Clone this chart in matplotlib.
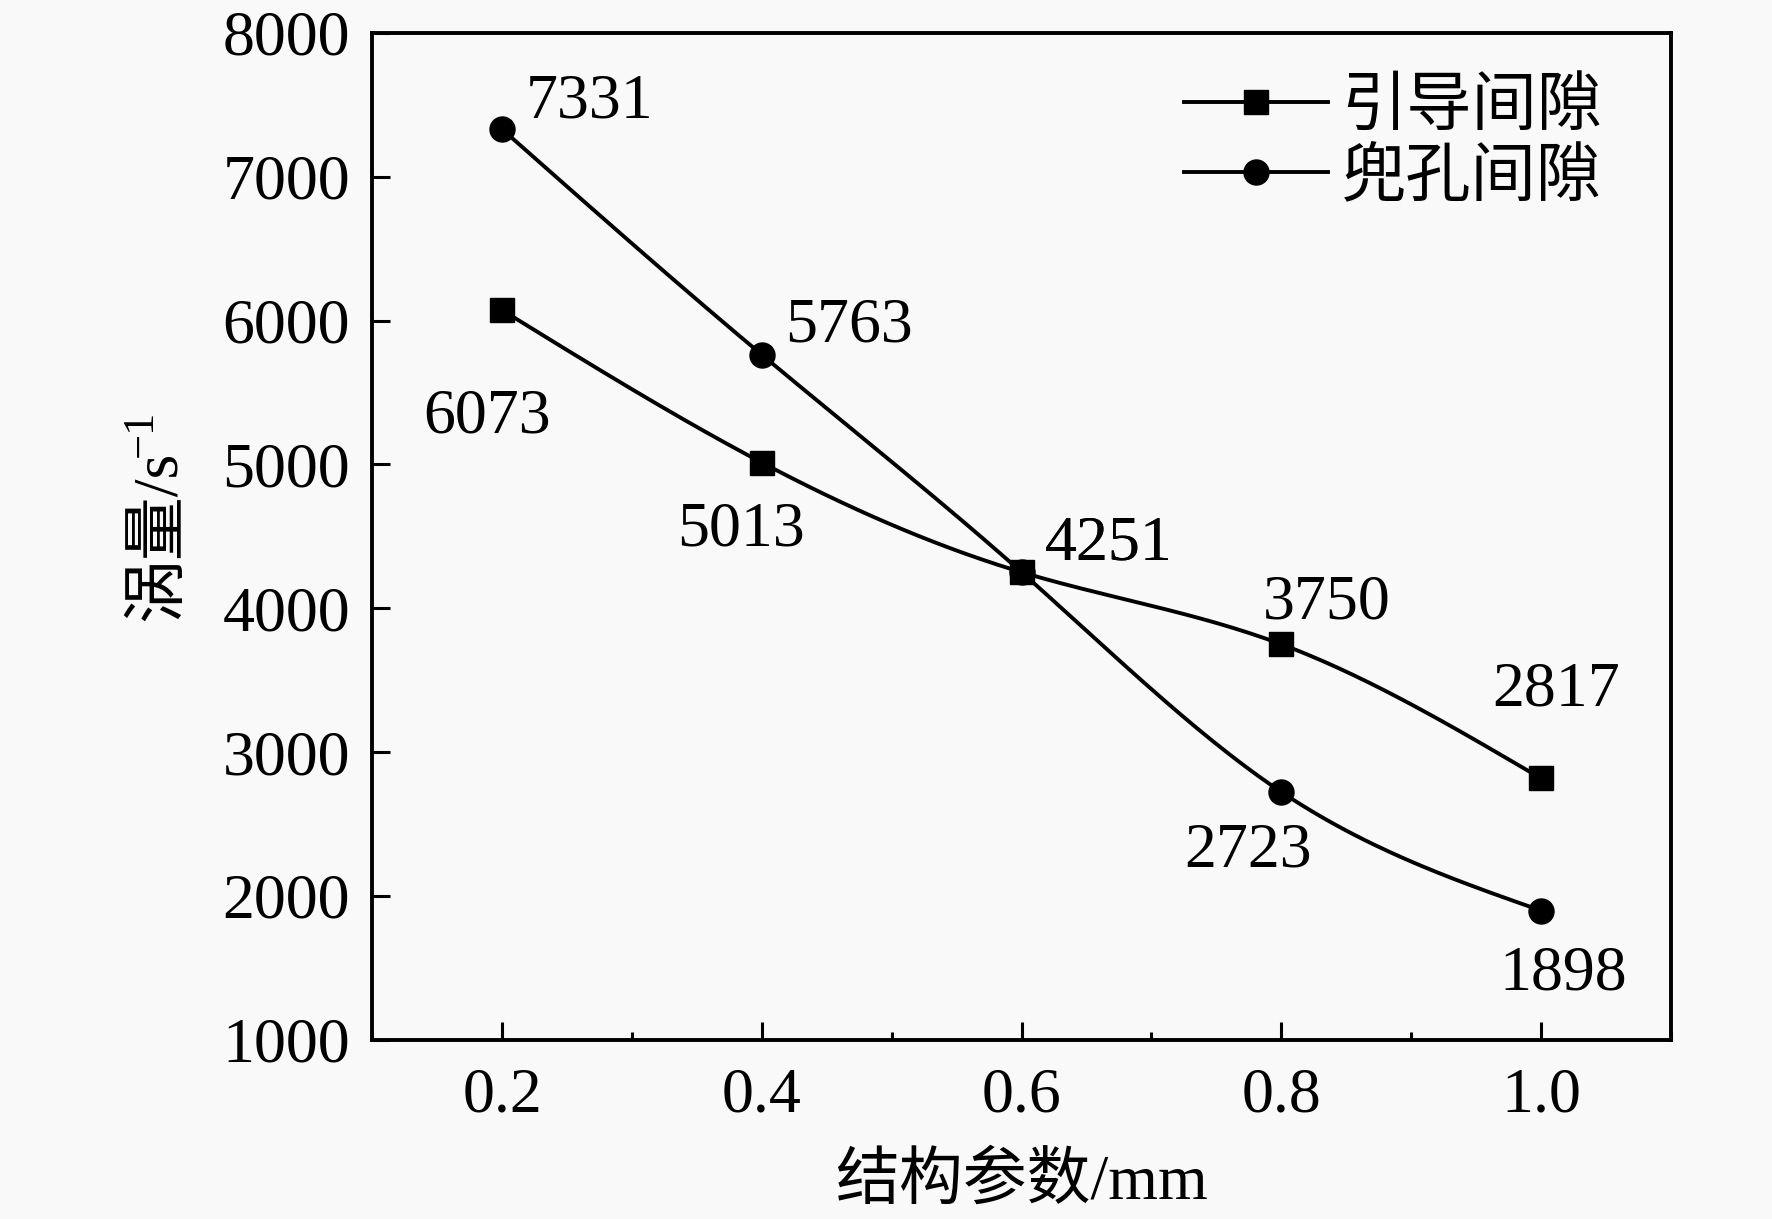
import numpy as np
import matplotlib
matplotlib.use("Agg")
from matplotlib import pyplot as plt
from matplotlib.ticker import MultipleLocator

# data
x = [0.2, 0.4, 0.6, 0.8, 1.0]
guide_gap = [6073, 5013, 4251, 3750, 2817]    # 引导间隙
pocket_gap = [7331, 5763, 4251, 2723, 1898]   # 兜孔间隙
series_names = ["引导间隙", "兜孔间隙"]
xticks = [0.2, 0.4, 0.6, 0.8, 1.0]
yticks = [1000, 2000, 3000, 4000, 5000, 6000, 7000, 8000]

# label offsets in points (dx, dy) relative to each marker
guide_offsets = [(-11, -77), (-15, -49), (63, 20), (33, 29), (11, 63)]
pocket_offsets = [(63, 19), (63, 20), (63, 20), (-24, -43), (16, -46)]


def smooth(xs, ys, n=200):
    # natural cubic spline through the points, only for drawing the curve
    xs = np.asarray(xs, float)
    ys = np.asarray(ys, float)
    k = len(xs)
    h = np.diff(xs)
    A = np.zeros((k, k))
    b = np.zeros(k)
    A[0, 0] = 1
    A[-1, -1] = 1
    for i in range(1, k - 1):
        A[i, i - 1] = h[i - 1]
        A[i, i] = 2 * (h[i - 1] + h[i])
        A[i, i + 1] = h[i]
        b[i] = 3 * ((ys[i + 1] - ys[i]) / h[i] - (ys[i] - ys[i - 1]) / h[i - 1])
    c = np.linalg.solve(A, b)
    xx = np.linspace(xs[0], xs[-1], n)
    yy = np.zeros_like(xx)
    for j, t in enumerate(xx):
        i = min(np.searchsorted(xs, t, side="right") - 1, k - 2)
        d = t - xs[i]
        bi = (ys[i + 1] - ys[i]) / h[i] - h[i] * (2 * c[i] + c[i + 1]) / 3
        di = (c[i + 1] - c[i]) / (3 * h[i])
        yy[j] = ys[i] + bi * d + c[i] * d ** 2 + di * d ** 3
    return xx, yy


def main():
    plt.rcParams['font.family'] = ['Liberation Serif', 'Noto Sans CJK SC', 'DejaVu Sans']
    fs = 46
    bg = '#f9f9f9'

    fig = plt.figure(figsize=(17.72, 12.19), dpi=100, facecolor=bg)
    ax = fig.add_axes([0.21, 0.147, 0.733, 0.826])
    ax.set_facecolor(bg)

    for ys, mk, ms, name, offs in [
        (guide_gap, 's', 17, series_names[0], guide_offsets),
        (pocket_gap, 'o', 18, series_names[1], pocket_offsets),
    ]:
        sx, sy = smooth(x, ys)
        ax.plot(sx, sy, color='black', lw=2.8)
        ax.plot(x, ys, linestyle='none', marker=mk, ms=ms, color='black')
        ax.plot([], [], color='black', lw=2.8, marker=mk, ms=ms, label=name)
        for xi, yi, (dx, dy) in zip(x, ys, offs):
            ax.annotate(str(yi), (xi, yi), xytext=(dx, dy), textcoords='offset points',
                        ha='center', va='center', fontsize=fs)

    ax.set_xlim(0.1, 1.1)
    ax.set_ylim(1000, 8000)
    ax.set_xticks(xticks)
    ax.set_xticklabels(["%.1f" % v for v in xticks])
    ax.xaxis.set_minor_locator(MultipleLocator(0.1))
    ax.set_yticks(yticks)

    ax.tick_params(axis='both', which='major', direction='in', length=13, width=2.2,
                   labelsize=fs, top=False, right=False)
    ax.tick_params(axis='x', which='major', pad=20)
    ax.tick_params(axis='y', which='major', pad=16)
    ax.tick_params(axis='x', which='minor', direction='in', length=6, width=2.2, top=False)
    for sp in ax.spines.values():
        sp.set_linewidth(2.8)

    ax.set_xlabel("结构参数/mm", fontsize=fs, labelpad=20)
    ylab = ax.set_ylabel("涡量/s", fontsize=fs, labelpad=24)

    ax.legend(loc='upper right', fontsize=47, frameon=False, handlelength=2.2,
              handletextpad=0.2, labelspacing=0.15, borderaxespad=0.3,
              bbox_to_anchor=(0.982, 1.0))

    # superscript -1 next to the rotated y label
    fig.canvas.draw()
    bb = ylab.get_window_extent()
    W, H = fig.bbox.width, fig.bbox.height
    fig.text((bb.x0 - 10) / W, (bb.y1 - 6) / H, "\u22121", rotation=90,
             ha='left', va='bottom', fontsize=32)

    fig.savefig("out.png", dpi=100, facecolor=bg)


if __name__ == '__main__':
    main()
